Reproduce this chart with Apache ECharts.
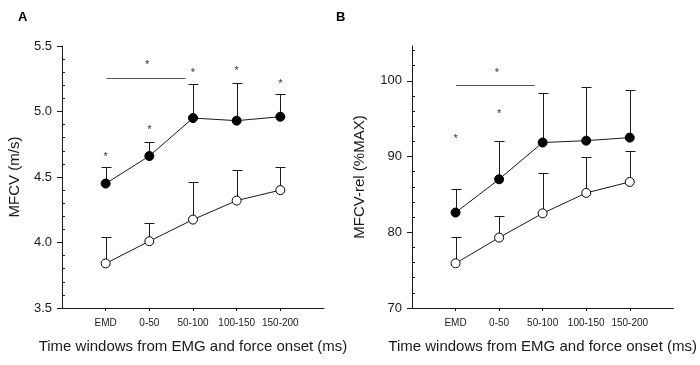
<!DOCTYPE html>
<html>
<head>
<meta charset="utf-8">
<script src="https://cdn.jsdelivr.net/npm/echarts@6/dist/echarts.min.js"></script>
<style>
  html, body { margin: 0; padding: 0; background: #fff; }
  #main { width: 700px; height: 365px; }
</style>
</head>
<body>
<div id="main"></div>
<script>
// time windows
const categories = ['EMD', '0-50', '50-100', '100-150', '150-200'];

// panel A: MFCV (m/s), mean and mean+SD
const mfcvFilled = [4.45, 4.66, 4.95, 4.93, 4.96];
const mfcvFilledTop = [4.58, 4.77, 5.21, 5.22, 5.13];
const mfcvOpen = [3.84, 4.01, 4.175, 4.32, 4.40];
const mfcvOpenTop = [4.04, 4.15, 4.46, 4.55, 4.58];

// panel B: MFCV-rel (%MAX)
const relFilled = [82.6, 87.0, 91.85, 92.1, 92.5];
const relFilledTop = [85.7, 92.0, 98.4, 99.2, 98.8];
const relOpen = [75.9, 79.3, 82.5, 85.2, 86.65];
const relOpenTop = [79.4, 82.2, 87.8, 89.9, 90.7];

// significance marks [x, y]
const starsA = [[1, 4.675], [2, 4.88], [3, 5.317], [4, 5.33], [5, 5.235], [1.95, 5.378]];
const bracketA = [[1.02, 2.83, 5.255]];
const starsB = [[1, 92.7], [2, 96.0], [1.95, 101.5]];
const bracketB = [[1.01, 2.82, 99.4]];

// tick values
const majorA = [3.5, 4.0, 4.5, 5.0, 5.5];
const minorA = [3.6, 3.7, 3.8, 3.9, 4.1, 4.2, 4.3, 4.4, 4.6, 4.7, 4.8, 4.9, 5.1, 5.2, 5.3, 5.4];
const majorB = [70, 80, 90, 100];
const minorB = [72, 74, 76, 78, 82, 84, 86, 88, 92, 94, 96, 98, 102, 104];

const ink = '#1a1a1a';
const font = 'Arial, "Liberation Sans", sans-serif';

const pos = arr => arr.map((v, i) => [i + 1, v]);
const bars = (m, t) => m.map((v, i) => [i + 1, v, t[i]]);

function xAxisFor(grid) {
  return {
    type: 'value', gridIndex: grid, min: 0, max: 6,
    name: 'Time windows from EMG and force onset (ms)',
    nameLocation: 'middle', nameGap: 31,
    nameTextStyle: { fontSize: 15, color: ink, fontFamily: font },
    axisLine: { lineStyle: { color: ink, width: 1 } },
    axisTick: { length: 3, customValues: [1, 2, 3, 4, 5], lineStyle: { color: ink } },
    axisLabel: {
      customValues: [1, 2, 3, 4, 5], margin: 10, fontSize: 10, color: ink, fontFamily: font,
      formatter: v => categories[Math.round(v) - 1]
    },
    splitLine: { show: false }
  };
}

function yAxesFor(grid, min, max, major, minor, name, gap, digits) {
  return [{
    type: 'value', gridIndex: grid, min: min, max: max, position: 'left', offset: 0,
    name: name, nameLocation: 'middle', nameGap: gap,
    nameTextStyle: { fontSize: 15, color: ink, fontFamily: font },
    axisLine: { show: true, lineStyle: { color: ink, width: 1 } },
    axisTick: { show: true, length: 5, customValues: major, lineStyle: { color: ink } },
    axisLabel: {
      customValues: major, margin: 10, fontSize: 13, color: ink, fontFamily: font,
      formatter: v => v.toFixed(digits)
    },
    splitLine: { show: false }
  }, {
    type: 'value', gridIndex: grid, min: min, max: max, position: 'left', offset: 0,
    axisLine: { show: false },
    axisTick: { show: true, inside: true, length: 3, customValues: minor, lineStyle: { color: ink } },
    axisLabel: { show: false },
    splitLine: { show: false }
  }];
}

function errorBars(xi, yi, data) {
  return {
    type: 'custom', xAxisIndex: xi, yAxisIndex: yi, z: 1, silent: true,
    encode: { x: 0, y: [1, 2] },
    data: data,
    renderItem(params, api) {
      const p0 = api.coord([api.value(0), api.value(1)]);
      const p1 = api.coord([api.value(0), api.value(2)]);
      const x = Math.round(p0[0]) + 0.5, yt = Math.round(p1[1]) + 0.5;
      return {
        type: 'group', children: [
          { type: 'line', shape: { x1: x, y1: p0[1], x2: x, y2: yt }, style: { stroke: ink, lineWidth: 1 } },
          { type: 'line', shape: { x1: x - 5, y1: yt, x2: x + 5, y2: yt }, style: { stroke: ink, lineWidth: 1 } }
        ]
      };
    }
  };
}

function meanLine(xi, yi, data, filled) {
  return {
    type: 'line', xAxisIndex: xi, yAxisIndex: yi, z: 3, data: data,
    symbol: 'circle', symbolSize: 9,
    lineStyle: { color: ink, width: 1 },
    itemStyle: { color: filled ? '#000' : '#fff', borderColor: '#000', borderWidth: 1 },
    emphasis: { disabled: true }
  };
}

function stars(xi, yi, data) {
  return {
    type: 'custom', xAxisIndex: xi, yAxisIndex: yi, z: 4, silent: true,
    data: data,
    renderItem(params, api) {
      const p = api.coord([api.value(0), api.value(1)]);
      return {
        type: 'text', x: p[0], y: p[1] + 3,
        style: { text: '*', fontSize: 11, fill: '#333', align: 'center', verticalAlign: 'middle', fontFamily: font }
      };
    }
  };
}

function bracket(xi, yi, data) {
  return {
    type: 'custom', xAxisIndex: xi, yAxisIndex: yi, z: 4, silent: true,
    encode: { x: [0, 1], y: 2 },
    data: data,
    renderItem(params, api) {
      const a = api.coord([api.value(0), api.value(2)]);
      const b = api.coord([api.value(1), api.value(2)]);
      const y = Math.round(a[1]) + 0.5;
      return { type: 'line', shape: { x1: a[0], y1: y, x2: b[0], y2: y }, style: { stroke: '#555', lineWidth: 1 } };
    }
  };
}

const chart = echarts.init(document.getElementById('main'), null, { renderer: 'canvas' });
chart.setOption({
  animation: false,
  backgroundColor: '#fff',
  title: [
    { text: 'A', left: 13, top: 6, textStyle: { fontSize: 13, fontWeight: 'bold', color: '#000', fontFamily: font } },
    { text: 'B', left: 331, top: 6, textStyle: { fontSize: 13, fontWeight: 'bold', color: '#000', fontFamily: font } }
  ],
  grid: [
    { left: 62, top: 46, width: 262, height: 262 },
    { left: 412, top: 46, width: 262, height: 262 }
  ],
  xAxis: [xAxisFor(0), xAxisFor(1)],
  yAxis: [
    ...yAxesFor(0, 3.5, 5.5, majorA, minorA, 'MFCV (m/s)', 40, 1),
    ...yAxesFor(1, 70, 104.6, majorB, minorB, 'MFCV-rel (%MAX)', 45, 0)
  ],
  series: [
    errorBars(0, 0, bars(mfcvFilled, mfcvFilledTop)),
    errorBars(0, 0, bars(mfcvOpen, mfcvOpenTop)),
    meanLine(0, 0, pos(mfcvFilled), true),
    meanLine(0, 0, pos(mfcvOpen), false),
    stars(0, 0, starsA),
    bracket(0, 0, bracketA),
    errorBars(1, 2, bars(relFilled, relFilledTop)),
    errorBars(1, 2, bars(relOpen, relOpenTop)),
    meanLine(1, 2, pos(relFilled), true),
    meanLine(1, 2, pos(relOpen), false),
    stars(1, 2, starsB),
    bracket(1, 2, bracketB)
  ]
});
</script>
</body>
</html>
